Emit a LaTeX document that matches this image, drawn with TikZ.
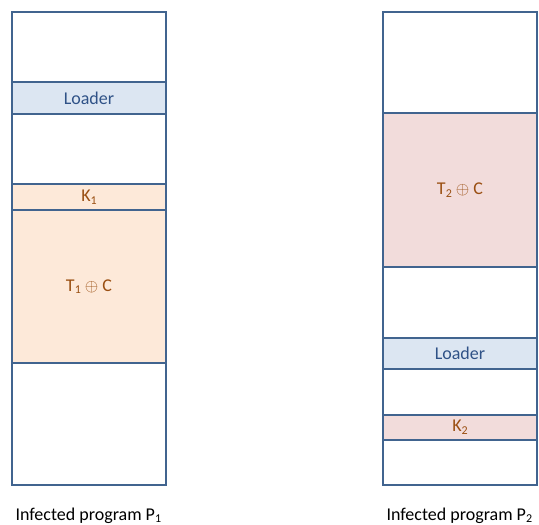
\documentclass[tikz,border=0pt]{standalone}
\usepackage{fontspec}
\setmainfont{Carlito}
\usetikzlibrary{positioning}
\definecolor{frame}{HTML}{41648F}
\definecolor{loadfill}{HTML}{DCE6F2}
\definecolor{loadtext}{HTML}{2F5287}
\definecolor{orfill}{HTML}{FDE9D9}
\definecolor{redfill}{HTML}{F2DCDB}
\definecolor{keytext}{HTML}{9A4F12}
\newcommand{\idx}[1]{\raisebox{-0.3ex}{\fontsize{12}{12}\selectfont#1}}

\begin{document}
\begin{tikzpicture}[
  x=1pt,y=-1pt,
  font=\fontsize{18}{20}\selectfont,
  box/.style={draw=frame,line width=1.2pt,minimum width=154pt,inner sep=0pt,align=center},
  loader/.style={box,fill=loadfill,text=loadtext},
  keyP1/.style={box,fill=orfill,text=keytext},
  keyP2/.style={box,fill=redfill,text=keytext}
]
\useasboundingbox (0,0) rectangle (539,525);
% program P1
\node[box,minimum height=70pt] (a0) at (89,47) {};
\node[box,minimum height=122pt] (a5) at (89,424) {};
\node[box,minimum height=70pt] (a2) at (89,149) {};
\node[loader,minimum height=32pt] (a1) at (89,98) {Loader};
\node[keyP1,minimum height=153pt] (a4) at (89,286.5) {T\idx{1} $\oplus$ C};
\node[keyP1,minimum height=26pt] (a3) at (89,197) {K\idx{1}};
\node[anchor=base west] (lab1) at (12,520) {Infected program P\idx{1}};

% program P2
\node[box,minimum height=101pt] (b0) at (460,62.5) {};
\node[box,minimum height=71pt] (b2) at (460,302.5) {};
\node[box,minimum height=46pt] (b4) at (460,392) {};
\node[box,minimum height=45pt] (b6) at (460,462.5) {};
\node[keyP2,minimum height=154pt] (b1) at (460,190) {T\idx{2} $\oplus$ C};
\node[loader,minimum height=31pt] (b3) at (460,353.5) {Loader};
\node[keyP2,minimum height=25pt] (b5) at (460,427.5) {K\idx{2}};
\node[anchor=base west] (lab2) at (383,520) {Infected program P\idx{2}};
\end{tikzpicture}
\end{document}
